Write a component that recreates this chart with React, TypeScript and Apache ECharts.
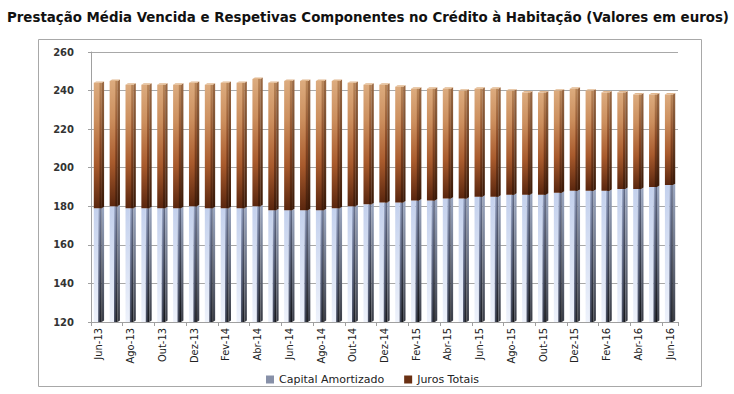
import React, { useEffect, useRef } from "react";
import * as echarts from "echarts";

const categories = [
  "Jun-13", "Jul-13", "Ago-13", "Set-13", "Out-13", "Nov-13", "Dez-13",
  "Jan-14", "Fev-14", "Mar-14", "Abr-14", "Mai-14", "Jun-14", "Jul-14", "Ago-14", "Set-14", "Out-14", "Nov-14", "Dez-14",
  "Jan-15", "Fev-15", "Mar-15", "Abr-15", "Mai-15", "Jun-15", "Jul-15", "Ago-15", "Set-15", "Out-15", "Nov-15", "Dez-15",
  "Jan-16", "Fev-16", "Mar-16", "Abr-16", "Mai-16", "Jun-16",
];

const capitalAmortizado = [
  179, 180, 179, 179, 179, 179, 180,
  179, 179, 179, 180, 178, 178, 178, 178, 179, 180, 181, 182,
  182, 183, 183, 184, 184, 185, 185, 186, 186, 186, 187, 188,
  188, 188, 189, 189, 190, 191,
];

const jurosTotais = [
  65, 65, 64, 64, 64, 64, 64,
  64, 65, 65, 66, 66, 67, 67, 67, 66, 64, 62, 61,
  60, 58, 58, 57, 56, 56, 56, 54, 53, 53, 53, 53,
  52, 51, 50, 49, 48, 47,
];

const Y_MIN = 120;
const Y_MAX = 260;
const Y_STEP = 20;

const seriesNames = ["Capital Amortizado", "Juros Totais"];

const LG = echarts.graphic.LinearGradient;

function renderBar(kind: "cap" | "jur") {
  return (params: any, api: any) => {
    const idx = api.value(0);
    const lo = api.value(1);
    const hi = api.value(2);
    const top = api.coord([idx, hi]);
    const bot = api.coord([idx, lo]);
    const band = api.size([1, 0])[0];
    const w = band * 0.5;
    const d = band * 0.15;
    const dy = d * 0.6;
    const x0 = top[0] - w / 2 - d / 2;
    const y0 = top[1];
    const y1 = bot[1];
    const h = y1 - y0;
    const children: any[] = [];
    if (kind === "cap") {
      children.push({
        type: "rect",
        shape: { x: x0, y: y0, width: w * 0.55, height: h },
        style: {
          fill: new LG(0, 0, 0, 1, [
            { offset: 0, color: "#c4d1ed" },
            { offset: 1, color: "#eef2fb" },
          ]),
        },
      });
      children.push({
        type: "rect",
        shape: { x: x0 + w * 0.55, y: y0, width: w * 0.45, height: h },
        style: {
          fill: new LG(0, 0, 1, 1, [
            { offset: 0, color: "#b4c2e2" },
            { offset: 0.4, color: "#646d88" },
            { offset: 1, color: "#080808" },
          ]),
        },
      });
      children.push({
        type: "polygon",
        shape: {
          points: [
            [x0 + w, y0],
            [x0 + w + d, y0 - dy],
            [x0 + w + d, y1 - dy],
            [x0 + w, y1],
          ],
        },
        style: {
          fill: new LG(0, 0, 0, 1, [
            { offset: 0, color: "#9aa6c0" },
            { offset: 1, color: "#3a3d46" },
          ]),
        },
      });
    } else {
      children.push({
        type: "rect",
        shape: { x: x0, y: y0, width: w, height: h },
        style: {
          fill: new LG(0, 0, 0, 1, [
            { offset: 0, color: "#dcab7e" },
            { offset: 0.3, color: "#cc8f5e" },
            { offset: 0.65, color: "#a95b2d" },
            { offset: 1, color: "#5a260e" },
          ]),
        },
      });
      children.push({
        type: "rect",
        shape: { x: x0 + w * 0.72, y: y0, width: w * 0.28, height: h },
        style: {
          fill: new LG(0, 0, 0, 1, [
            { offset: 0, color: "#b98659" },
            { offset: 0.5, color: "#874622" },
            { offset: 1, color: "#3e1a08" },
          ]),
        },
      });
      children.push({
        type: "polygon",
        shape: {
          points: [
            [x0 + w, y0],
            [x0 + w + d, y0 - dy],
            [x0 + w + d, y1 - dy],
            [x0 + w, y1],
          ],
        },
        style: {
          fill: new LG(0, 0, 0, 1, [
            { offset: 0, color: "#9c6a44" },
            { offset: 1, color: "#3a1806" },
          ]),
        },
      });
      children.push({
        type: "polygon",
        shape: {
          points: [
            [x0, y0],
            [x0 + d, y0 - dy],
            [x0 + w + d, y0 - dy],
            [x0 + w, y0],
          ],
        },
        style: { fill: "#e2b88f" },
      });
    }
    return { type: "group", children };
  };
}

export default function App() {
  const ref = useRef<HTMLDivElement>(null);

  useEffect(() => {
    if (!ref.current) return;
    const chart = echarts.init(ref.current, null, { renderer: "svg" });

    const capData = categories.map((_, i) => [i, Y_MIN, capitalAmortizado[i]]);
    const jurData = categories.map((_, i) => [
      i,
      capitalAmortizado[i],
      capitalAmortizado[i] + jurosTotais[i],
    ]);

    const option: any = {
      animation: false,
      backgroundColor: "#ffffff",
      title: {
        text: "Prestação Média Vencida e Respetivas Componentes no Crédito à Habitação (Valores em euros)",
        left: 7,
        top: 9,
        padding: 0,
        textStyle: {
          fontFamily: "'DejaVu Sans Condensed', 'DejaVu Sans', sans-serif",
          fontWeight: "bold",
          fontSize: 14.85,
          color: "#111111",
        },
      },
      graphic: [
        {
          type: "rect",
          silent: true,
          z: -10,
          shape: { x: 38.5, y: 39.5, width: 663, height: 347 },
          style: { fill: "none", stroke: "#a8a8a8", lineWidth: 1 },
        },
      ],
      legend: {
        left: 261,
        top: 369,
        itemWidth: 8,
        itemHeight: 8,
        itemGap: 20,
        textStyle: {
          fontFamily: "'DejaVu Sans', sans-serif",
          fontSize: 11,
          color: "#222222",
        },
        data: [
          { name: seriesNames[0], icon: "rect", itemStyle: { color: "#8790a8" } },
          { name: seriesNames[1], icon: "rect", itemStyle: { color: "#6a3013" } },
        ],
      },
      grid: { left: 91, right: 56, top: 52, bottom: 72 },
      xAxis: {
        type: "category",
        data: categories,
        boundaryGap: true,
        axisLine: { show: true, lineStyle: { color: "#a0a0a0" } },
        axisTick: { show: true, interval: 1, length: 4, lineStyle: { color: "#a0a0a0" } },
        axisLabel: {
          interval: 1,
          rotate: 90,
          margin: 6,
          fontFamily: "'DejaVu Sans Condensed', 'DejaVu Sans', sans-serif",
          fontSize: 11,
          color: "#222222",
        },
        splitLine: { show: false },
      },
      yAxis: {
        type: "value",
        min: Y_MIN,
        max: Y_MAX,
        interval: Y_STEP,
        axisLine: { show: true, lineStyle: { color: "#a0a0a0" } },
        axisTick: { show: true, length: 3, lineStyle: { color: "#a0a0a0" } },
        axisLabel: {
          margin: 17,
          fontFamily: "'DejaVu Sans', sans-serif",
          fontWeight: "bold",
          fontSize: 10,
          color: "#333333",
        },
        splitLine: { show: true, lineStyle: { color: "#a8a8a8", width: 1 } },
      },
      series: [
        {
          name: seriesNames[0],
          type: "custom",
          renderItem: renderBar("cap"),
          encode: { x: 0, y: [1, 2] },
          itemStyle: { color: "#8790a8" },
          data: capData,
          z: 2,
        },
        {
          name: seriesNames[1],
          type: "custom",
          renderItem: renderBar("jur"),
          encode: { x: 0, y: [1, 2] },
          itemStyle: { color: "#6a3013" },
          data: jurData,
          z: 2,
        },
      ],
    };

    chart.setOption(option);
    return () => chart.dispose();
  }, []);

  return (
    <div
      ref={ref}
      style={{ position: "fixed", left: 0, top: 0, width: 734, height: 394 }}
    />
  );
}
